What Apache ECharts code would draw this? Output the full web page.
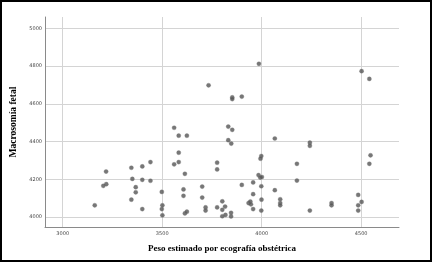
<!DOCTYPE html>
<html><head><meta charset="utf-8">
<script src="https://cdn.jsdelivr.net/npm/echarts@6/dist/echarts.min.js"></script>
<style>html,body{margin:0;padding:0;background:#fff}#c{width:433px;height:263px}</style>
</head><body><div id="c"></div>
<script>
const xTicks = [3000, 3500, 4000, 4500];
const yTicks = [4000, 4200, 4400, 4600, 4800, 5000];
const pesoEstimado = [3161,3218,3204,3219,3345,3350,3345,3367,3367,3400,3400,3400,3441,3441,3498,3501,3498,3501,3560,3583,3624,3583,3560,3583,3614,3607,3607,3614,3624,3701,3701,3718,3718,3776,3776,3776,3832,3852,3832,3847,3900,3957,3957,3934,3943,3946,3957,3984,3993,4001,3998,3994,3998,3999,3998,4066,4066,4093,4093,4093,4177,4177,4242,4242,4242,4351,4351,4485,4502,4485,4485,4547,4541,3802,3802,3816,3802,3818,3846,3846,3733,3986,4502,4541,3852,3852,3900];
const macrosomia = [4062,4241,4165,4174,4261,4202,4092,4158,4131,4268,4197,4042,4291,4192,4133,4062,4042,4009,4473,4431,4431,4341,4279,4291,4229,4146,4112,4019,4028,4161,4103,4051,4034,4288,4252,4051,4479,4462,4407,4389,4170,4183,4121,4074,4082,4067,4042,4222,4209,4212,4323,4309,4163,4092,4034,4416,4142,4094,4074,4062,4282,4193,4394,4377,4034,4074,4062,4117,4080,4062,4034,4327,4282,4083,4038,4055,4004,4011,4022,4003,4698,4812,4773,4732,4634,4625,4638];
const xTitle = 'Peso estimado por ecografía obstétrica';
const yTitle = 'Macrosomía fetal';

const pts = pesoEstimado.map((v, i) => [v, macrosomia[i]]);
const chart = echarts.init(document.getElementById('c'), null, {renderer: 'canvas'});
chart.setOption({
  animation: false,
  grid: {left: 45, right: 34, top: 17, bottom: 36, containLabel: false},
  xAxis: {
    type: 'value', min: 2911, max: 4690,
    name: xTitle, nameLocation: 'middle', nameGap: 17,
    nameTextStyle: {fontFamily: 'Liberation Serif', fontWeight: 'bold', fontSize: 9, color: '#000'},
    axisLine: {show: true, onZero: false, lineStyle: {color: '#8a8a8a', width: 1}},
    axisTick: {show: false, customValues: xTicks},
    axisLabel: {customValues: xTicks, formatter: v => String(v), fontSize: 5, color: '#444', margin: 4, fontFamily: 'DejaVu Sans'},
    splitLine: {show: true, lineStyle: {color: '#d4d4d4', width: 1}}
  },
  yAxis: {
    type: 'value', min: 3947, max: 5060,
    name: yTitle, nameLocation: 'middle', nameGap: 21, nameRotate: 90,
    nameTextStyle: {fontFamily: 'Liberation Serif', fontWeight: 'bold', fontSize: 9.5, color: '#000'},
    axisLine: {show: true, onZero: false, lineStyle: {color: '#8a8a8a', width: 1}},
    axisTick: {show: false, customValues: yTicks},
    axisLabel: {customValues: yTicks, formatter: v => String(v), fontSize: 5, color: '#444', margin: 3, fontFamily: 'DejaVu Sans'},
    splitLine: {show: true, lineStyle: {color: '#d4d4d4', width: 1}}
  },
  series: [{
    type: 'scatter', data: pts, symbol: 'circle', symbolSize: 4.2,
    itemStyle: {color: '#555555', borderColor: '#777', borderWidth: 0.4}
  }],
  graphic: [{
    type: 'rect', shape: {x: 1, y: 1, width: 430, height: 260},
    style: {fill: null, stroke: '#000', lineWidth: 2}, silent: true, z: 100
  }]
});
</script></body></html>
